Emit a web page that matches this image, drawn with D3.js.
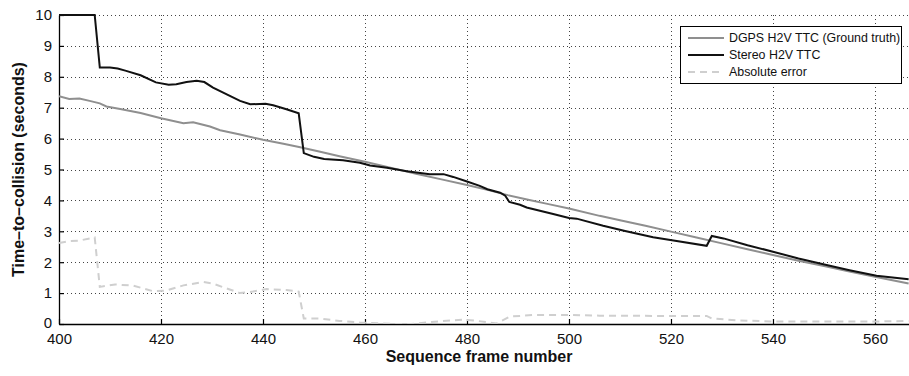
<!DOCTYPE html>
<html><head><meta charset="utf-8">
<script src="https://cdn.jsdelivr.net/npm/d3@7"></script>
<style>body{margin:0;background:#fff}svg{display:block;font-family:"Liberation Sans",Arial,sans-serif}</style>
</head><body><svg id="c" width="909" height="376"></svg>
<script>
const xTicks=[400,420,440,460,480,500,520,540,560];
const yTicks=[0,1,2,3,4,5,6,7,8,9,10];
const seriesNames=["DGPS H2V TTC (Ground truth)","Stereo H2V TTC","Absolute error"];

const gtFrames=[400,402,404,406,408,409.3,412,416,420,424.4,426.3,429.6,431.6,435.5,440,444,447.3,451,455,460,465,470,475,480,484,488,492,496,500,506,510,515,520,525,530,535,540,545,550,555,560,566.6];
const gtValues=[7.37,7.28,7.30,7.22,7.14,7.04,6.96,6.83,6.66,6.50,6.53,6.39,6.27,6.13,5.96,5.83,5.72,5.58,5.43,5.25,5.06,4.86,4.68,4.50,4.34,4.17,4.02,3.88,3.74,3.50,3.36,3.18,2.99,2.80,2.61,2.42,2.23,2.05,1.88,1.70,1.53,1.31];

const stFrames=[400,407,408,410,411.5,413,416,419,421.5,423,425,427,428.5,430.2,433,435.5,437.5,440.5,442,444.6,447,448,450,452,455.7,459,461,464.3,468.2,472.7,475.4,477.3,480,482.5,484,486.5,487.5,488.3,490.4,491.7,496.9,500,501.5,506.7,511,516.5,520.5,527,528,530.3,535,540,545,550.5,555,560.3,566.6];
const stValues=[10,10,8.3,8.3,8.27,8.2,8.05,7.82,7.74,7.76,7.83,7.87,7.83,7.65,7.42,7.22,7.11,7.13,7.08,6.95,6.82,5.53,5.41,5.34,5.30,5.22,5.13,5.06,4.94,4.85,4.85,4.76,4.61,4.47,4.36,4.25,4.15,3.95,3.86,3.77,3.56,3.43,3.41,3.18,3.01,2.81,2.70,2.53,2.85,2.77,2.55,2.34,2.12,1.91,1.74,1.56,1.45];

const errFrames=[400,402,404,407,408,411,414.6,418.5,421,424.4,428.3,430.3,435.5,438,440.7,444.6,447,448,451,455,459,465.5,469,475.3,479.3,482,485.8,488.4,493,500,506,520,527,528,533,540,560,566.6];
const errValues=[2.62,2.68,2.70,2.80,1.20,1.28,1.24,1.06,1.08,1.25,1.36,1.30,1.00,1.05,1.13,1.10,1.05,0.18,0.18,0.10,0.05,0.0,0.0,0.10,0.14,0.10,0.02,0.24,0.29,0.29,0.27,0.26,0.26,0.18,0.12,0.08,0.08,0.10];

const svg=d3.select("#c");
const L=59,R=909,T=15,B=324;
const x=d3.scaleLinear().domain([400,566.67]).range([L,R]);
const y=d3.scaleLinear().domain([0,10]).range([B,T]);

const defs=svg.append("defs");
defs.append("clipPath").attr("id","clip").append("rect").attr("x",L).attr("y",T-2).attr("width",R-L).attr("height",B-T+2);

// grid
const grid=svg.append("g");
grid.selectAll(".hg").data(yTicks.filter(d=>d>0)).join("line")
 .attr("x1",L).attr("x2",R).attr("y1",d=>Math.round(y(d))+0.5).attr("y2",d=>Math.round(y(d))+0.5)
 .attr("stroke","#444").attr("stroke-width",1).attr("stroke-dasharray","1,3");
grid.selectAll(".vg").data(xTicks.filter(d=>d>400)).join("line")
 .attr("y1",T).attr("y2",B).attr("x1",d=>Math.round(x(d))+0.5).attr("x2",d=>Math.round(x(d))+0.5)
 .attr("stroke","#444").attr("stroke-width",1).attr("stroke-dasharray","1,3");

// axes
const xa=svg.append("g").attr("transform",`translate(0,${B})`)
 .call(d3.axisBottom(x).tickValues(xTicks).tickSize(-5).tickPadding(9).tickSizeOuter(0));
const ya=svg.append("g").attr("transform",`translate(${L},0)`)
 .call(d3.axisLeft(y).tickValues(yTicks).tickSize(-5).tickPadding(7).tickSizeOuter(0));
[xa,ya].forEach(a=>{a.select(".domain").attr("stroke","#000").attr("stroke-width",1.3);
 a.selectAll(".tick line").attr("stroke","#000").attr("stroke-width",1.2);
 a.selectAll("text").attr("font-size",15).attr("fill","#111").attr("font-family","Liberation Sans, Arial, sans-serif");});
ya.selectAll(".tick text").filter(d=>d===0).attr("dy","0.25em");

const line=d3.line().x(d=>x(d[0])).y(d=>y(d[1]));
const plot=svg.append("g").attr("clip-path","url(#clip)");
plot.append("path").datum(errFrames.map((f,i)=>[f,errValues[i]])).attr("d",line)
 .attr("fill","none").attr("stroke","#cfcfcf").attr("stroke-width",2).attr("stroke-dasharray","7,5");
plot.append("path").datum(gtFrames.map((f,i)=>[f,gtValues[i]])).attr("d",line)
 .attr("fill","none").attr("stroke","#8f8f8f").attr("stroke-width",2);
plot.append("path").datum(stFrames.map((f,i)=>[f,stValues[i]])).attr("d",line)
 .attr("fill","none").attr("stroke","#111").attr("stroke-width",2);

// titles
svg.append("text").attr("x",(L+R)/2-5).attr("y",362).attr("text-anchor","middle")
 .attr("font-size",16).attr("font-weight","bold").attr("fill","#111").text("Sequence frame number");
svg.append("text").attr("transform",`translate(24,${(T+B)/2}) rotate(-90)`).attr("text-anchor","middle")
 .attr("font-size",16).attr("font-weight","bold").attr("fill","#111").text("Time–to–collision (seconds)");

// legend
const lg=svg.append("g");
lg.append("rect").attr("x",680.5).attr("y",26.5).attr("width",221).attr("height",57).attr("fill","#fff").attr("stroke","#000").attr("stroke-width",1);
const lstyles=[{c:"#8f8f8f",d:null},{c:"#111",d:null},{c:"#cfcfcf",d:"7,5"}];
const rowsY=[38,55,72];
seriesNames.forEach((n,i)=>{
 lg.append("line").attr("x1",688).attr("x2",724).attr("y1",rowsY[i]).attr("y2",rowsY[i])
  .attr("stroke",lstyles[i].c).attr("stroke-width",2).attr("stroke-dasharray",lstyles[i].d);
 lg.append("text").attr("x",729).attr("y",rowsY[i]).attr("dy","0.35em").attr("font-size",12.4).attr("fill","#111").text(n);
});
</script></body></html>
